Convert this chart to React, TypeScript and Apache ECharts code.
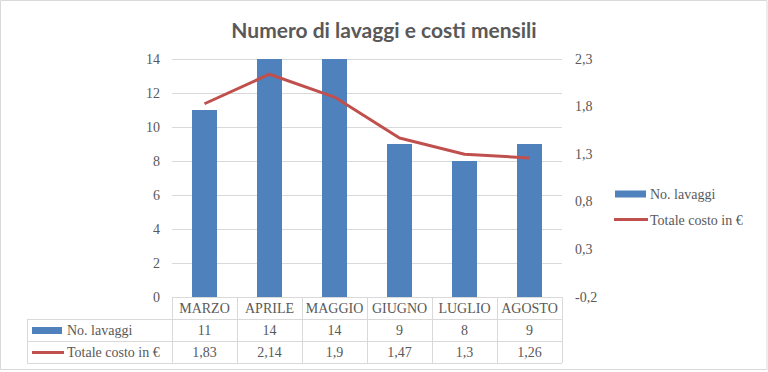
import React, { useEffect, useRef } from "react";
import * as echarts from "echarts";

const categories = ["MARZO", "APRILE", "MAGGIO", "GIUGNO", "LUGLIO", "AGOSTO"];
const lavaggi = [11, 14, 14, 9, 8, 9];
const costi = [1.83, 2.14, 1.9, 1.47, 1.3, 1.26];
const seriesNames = ["No. lavaggi", "Totale costo in €"];
const titleText = "Numero di lavaggi e costi mensili";

const W = 768;
const H = 372;
const GL = 172;
const GR = 562;
const GT = 59;
const GB = 297;
const ROW = 22;
const TL = 27;
const BLUE = "#4f81bd";
const RED = "#c0504d";
const GRID = "#d9d9d9";
const TXT = "#595959";
const SERIF = "'Liberation Serif', 'DejaVu Serif', serif";
const FS = 14;

const fmt = (v: number) => String(v).replace(".", ",");

export default function App() {
  const ref = useRef<HTMLDivElement>(null);
  useEffect(() => {
    if (!ref.current) return;
    const chart = echarts.init(ref.current, null, { renderer: "svg" });
    const colW = (GR - GL) / categories.length;
    const graphics: any[] = [];
    graphics.push({
      type: "rect",
      shape: { x: 0.5, y: 0.5, width: W - 1.5, height: H - 3 },
      style: { fill: "none", stroke: GRID, lineWidth: 1 },
      silent: true,
    });
    const line = (x1: number, y1: number, x2: number, y2: number) =>
      graphics.push({
        type: "line",
        shape: { x1, y1, x2, y2 },
        style: { stroke: GRID, lineWidth: 1 },
        silent: true,
      });
    const yTop = GB;
    const y1 = GB + ROW;
    const y2 = GB + ROW * 2;
    const y3 = GB + ROW * 3;
    line(GL, yTop + 0.5, GR, yTop + 0.5);
    line(TL, y1 + 0.5, GR, y1 + 0.5);
    line(TL, y2 + 0.5, GR, y2 + 0.5);
    line(TL, y3 + 0.5, GR, y3 + 0.5);
    line(TL + 0.5, y1, TL + 0.5, y3);
    for (let i = 0; i <= categories.length; i++) {
      const x = Math.round(GL + colW * i) + 0.5;
      line(x, yTop, x, y3);
    }
    const cellText = (text: string, x: number, y: number, align: string) =>
      graphics.push({
        type: "text",
        x,
        y,
        style: {
          text,
          fill: TXT,
          font: `${FS}px ${SERIF}`,
          align,
          verticalAlign: "middle",
        },
        silent: true,
      });
    categories.forEach((c, i) => {
      const cx = GL + colW * (i + 0.5);
      cellText(c, cx, yTop + ROW / 2 + 0.5, "center");
      cellText(fmt(lavaggi[i]), cx, y1 + ROW / 2 + 0.5, "center");
      cellText(fmt(costi[i]), cx, y2 + ROW / 2 + 0.5, "center");
    });
    // row keys in the data table
    graphics.push({
      type: "rect",
      shape: { x: TL + 5, y: y1 + ROW / 2 - 3, width: 30, height: 7 },
      style: { fill: BLUE },
      silent: true,
    });
    graphics.push({
      type: "line",
      shape: { x1: TL + 5, y1: y2 + ROW / 2 + 0.5, x2: TL + 37, y2: y2 + ROW / 2 + 0.5 },
      style: { stroke: RED, lineWidth: 3 },
      silent: true,
    });
    cellText(seriesNames[0], TL + 40, y1 + ROW / 2 + 0.5, "left");
    cellText(seriesNames[1], TL + 40, y2 + ROW / 2 + 0.5, "left");

    // legend on the right
    const LX = 615;
    const LY1 = 194;
    const LY2 = 220;
    graphics.push({
      type: "rect",
      shape: { x: LX, y: LY1 - 3.5, width: 31, height: 7 },
      style: { fill: BLUE },
      silent: true,
    });
    graphics.push({
      type: "line",
      shape: { x1: LX - 1, y1: LY2 - 0.5, x2: LX + 33, y2: LY2 - 0.5 },
      style: { stroke: RED, lineWidth: 3 },
      silent: true,
    });
    cellText(seriesNames[0], LX + 35, LY1, "left");
    cellText(seriesNames[1], LX + 35, LY2, "left");

    chart.setOption({
      animation: false,
      title: {
        text: titleText,
        left: "center",
        top: 14,
        textStyle: {
          fontFamily: "Lato, 'Open Sans', sans-serif",
          fontWeight: "bold",
          fontSize: 21,
          color: TXT,
        },
      },
      grid: { left: GL, right: W - GR, top: GT, bottom: H - GB },
      xAxis: {
        type: "category",
        data: categories,
        boundaryGap: true,
        axisLine: { show: false },
        axisTick: { show: false },
        axisLabel: { show: false },
      },
      yAxis: [
        {
          type: "value",
          min: 0,
          max: 14,
          interval: 2,
          axisLine: { show: false },
          axisTick: { show: false },
          splitLine: { lineStyle: { color: GRID, width: 1 } },
          axisLabel: { color: TXT, fontFamily: SERIF, fontSize: FS, margin: 12 },
        },
        {
          type: "value",
          min: -0.2,
          max: 2.3,
          interval: 0.5,
          position: "right",
          axisLine: { show: false },
          axisTick: { show: false },
          splitLine: { show: false },
          axisLabel: {
            color: TXT,
            fontFamily: SERIF,
            fontSize: FS,
            margin: 13,
            formatter: (v: number) => fmt(Math.round(v * 10) / 10),
          },
        },
      ],
      series: [
        {
          name: seriesNames[0],
          type: "bar",
          data: lavaggi,
          barWidth: 25,
          itemStyle: { color: BLUE },
          yAxisIndex: 0,
        },
        {
          name: seriesNames[1],
          type: "line",
          data: costi,
          yAxisIndex: 1,
          symbol: "none",
          lineStyle: { color: RED, width: 3 },
          itemStyle: { color: RED },
        },
      ],
      graphic: graphics,
    });
    return () => chart.dispose();
  }, []);
  return (
    <div
      ref={ref}
      style={{ position: "absolute", left: 0, top: 0, width: W, height: H, background: "#fff" }}
    />
  );
}
